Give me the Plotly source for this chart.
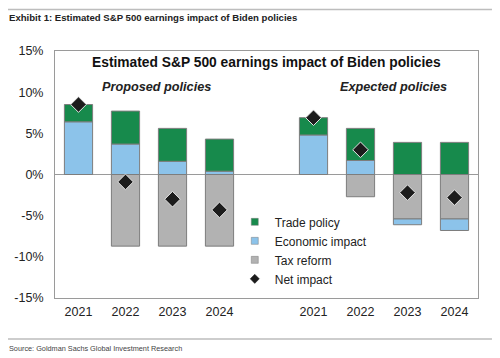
import plotly.graph_objects as go

years = ["2021", "2022", "2023", "2024"]
groups = ["Proposed policies", "Expected policies"]

# Proposed policies
prop_trade = [2.1, 4.0, 4.0, 3.9]
prop_econ = [6.4, 3.7, 1.6, 0.4]
prop_tax = [0.0, -8.7, -8.7, -8.7]
prop_net = [8.5, -0.9, -3.0, -4.3]

# Expected policies
exp_trade = [2.1, 3.9, 3.9, 3.9]
exp_econ = [4.8, 1.7, -0.7, -1.4]
exp_tax = [0.0, -2.7, -5.4, -5.4]
exp_net = [6.9, 3.0, -2.2, -2.8]

y_ticks = [-15, -10, -5, 0, 5, 10, 15]

# slot positions: 4 proposed, one empty gap slot, 4 expected
x_pos = [0, 1, 2, 3, 5, 6, 7, 8]
x_labels = years + years

trade = prop_trade + exp_trade
econ = prop_econ + exp_econ
tax = prop_tax + exp_tax
net = prop_net + exp_net

GREEN = "#178a4c"
BLUE = "#8cc3ea"
GRAY = "#b2b2b2"
EDGE = "#7d7d7d"
FONT = "Liberation Sans, Arial, sans-serif"

fig = go.Figure()
fig.add_trace(go.Bar(x=x_pos, y=tax, name="Tax reform", width=0.6, showlegend=False,
                     marker=dict(color=GRAY, line=dict(color=EDGE, width=1))))
fig.add_trace(go.Bar(x=x_pos, y=econ, name="Economic impact", width=0.6, showlegend=False,
                     marker=dict(color=BLUE, line=dict(color=EDGE, width=1))))
fig.add_trace(go.Bar(x=x_pos, y=trade, name="Trade policy", width=0.6, showlegend=False,
                     marker=dict(color=GREEN, line=dict(color=EDGE, width=1))))
fig.add_trace(go.Scatter(x=x_pos, y=net, name="Net impact", mode="markers", showlegend=False,
                         marker=dict(symbol="diamond", size=12, color="#1c1c1c",
                                     line=dict(color="#e6e6e6", width=1))))

# legend entries with small symbols, as in the original
legend_items = [("Trade policy", "square", GREEN, EDGE),
                ("Economic impact", "square", BLUE, EDGE),
                ("Tax reform", "square", GRAY, EDGE),
                ("Net impact", "diamond", "#1c1c1c", "#1c1c1c")]
for name, sym, col, edge in legend_items:
    fig.add_trace(go.Scatter(x=[None], y=[None], mode="markers", name=name,
                             marker=dict(symbol=sym, size=7, color=col,
                                         line=dict(color=edge, width=0.5))))

# page body has an 8px margin, so the figure is drawn 8px smaller and offset
fig.update_layout(
    barmode="relative",
    width=492, height=350,
    margin=dict(l=47, r=22, t=43, b=60),
    paper_bgcolor="white", plot_bgcolor="white",
    font=dict(family=FONT, color="#222222", size=12.5),
    showlegend=True,
    legend=dict(x=0.425, y=0.367, xanchor="left", yanchor="top",
                font=dict(size=12, family=FONT, color="#222222"),
                bgcolor="rgba(0,0,0,0)", itemwidth=30, tracegroupgap=0,
                itemsizing="trace"),
    xaxis=dict(range=[-0.5, 8.5], tickmode="array", tickvals=x_pos, ticktext=x_labels,
               showgrid=False, zeroline=False, showline=True, linecolor="#9a9a9a",
               linewidth=1, mirror=True, ticks="", tickfont=dict(size=12.5),
               ticklabelstandoff=2, automargin=False),
    yaxis=dict(range=[-15, 15], tickmode="array", tickvals=y_ticks,
               ticktext=[f"{v}%" for v in y_ticks],
               showgrid=False, zeroline=True, zerolinecolor="#9a9a9a", zerolinewidth=1,
               showline=True, linecolor="#9a9a9a", linewidth=1, mirror=True,
               ticks="", tickfont=dict(size=12.5), ticklabelstandoff=8, automargin=False),
)

fig.add_annotation(text="<b>Estimated S&P 500 earnings impact of Biden policies</b>",
                   xref="paper", yref="paper", x=0.5, y=0.955, showarrow=False,
                   xanchor="center", yanchor="middle", font=dict(size=13.8, color="#111111"))
fig.add_annotation(text="<b><i>" + groups[0] + "</i></b>", xref="x", yref="paper",
                   x=1.65, y=0.855, showarrow=False, xanchor="center", yanchor="middle",
                   font=dict(size=12.7, color="#222222"))
fig.add_annotation(text="<b><i>" + groups[1] + "</i></b>", xref="x", yref="paper",
                   x=6.7, y=0.855, showarrow=False, xanchor="center", yanchor="middle",
                   font=dict(size=12.7, color="#222222"))

# header and footer
fig.add_annotation(text="<b>Exhibit 1: Estimated S&P 500 earnings impact of Biden policies</b>",
                   xref="paper", yref="paper", x=-0.1135, y=1.134, showarrow=False,
                   xanchor="left", yanchor="middle", font=dict(size=9.6, family=FONT, color="#222222"))
fig.add_annotation(text="Source: Goldman Sachs Global Investment Research",
                   xref="paper", yref="paper", x=-0.1135, y=-0.206, showarrow=False,
                   xanchor="left", yanchor="middle", font=dict(size=7.3, family=FONT, color="#444444"))
fig.add_shape(type="line", xref="paper", yref="paper", x0=-0.1135, x1=1.033, y0=1.168,
              y1=1.168, line=dict(color="#bdbdbd", width=1.5))
fig.add_shape(type="line", xref="paper", yref="paper", x0=-0.1135, x1=1.033, y0=-0.166,
              y1=-0.166, line=dict(color="#bdbdbd", width=1.5))

fig.write_html("out.html")
